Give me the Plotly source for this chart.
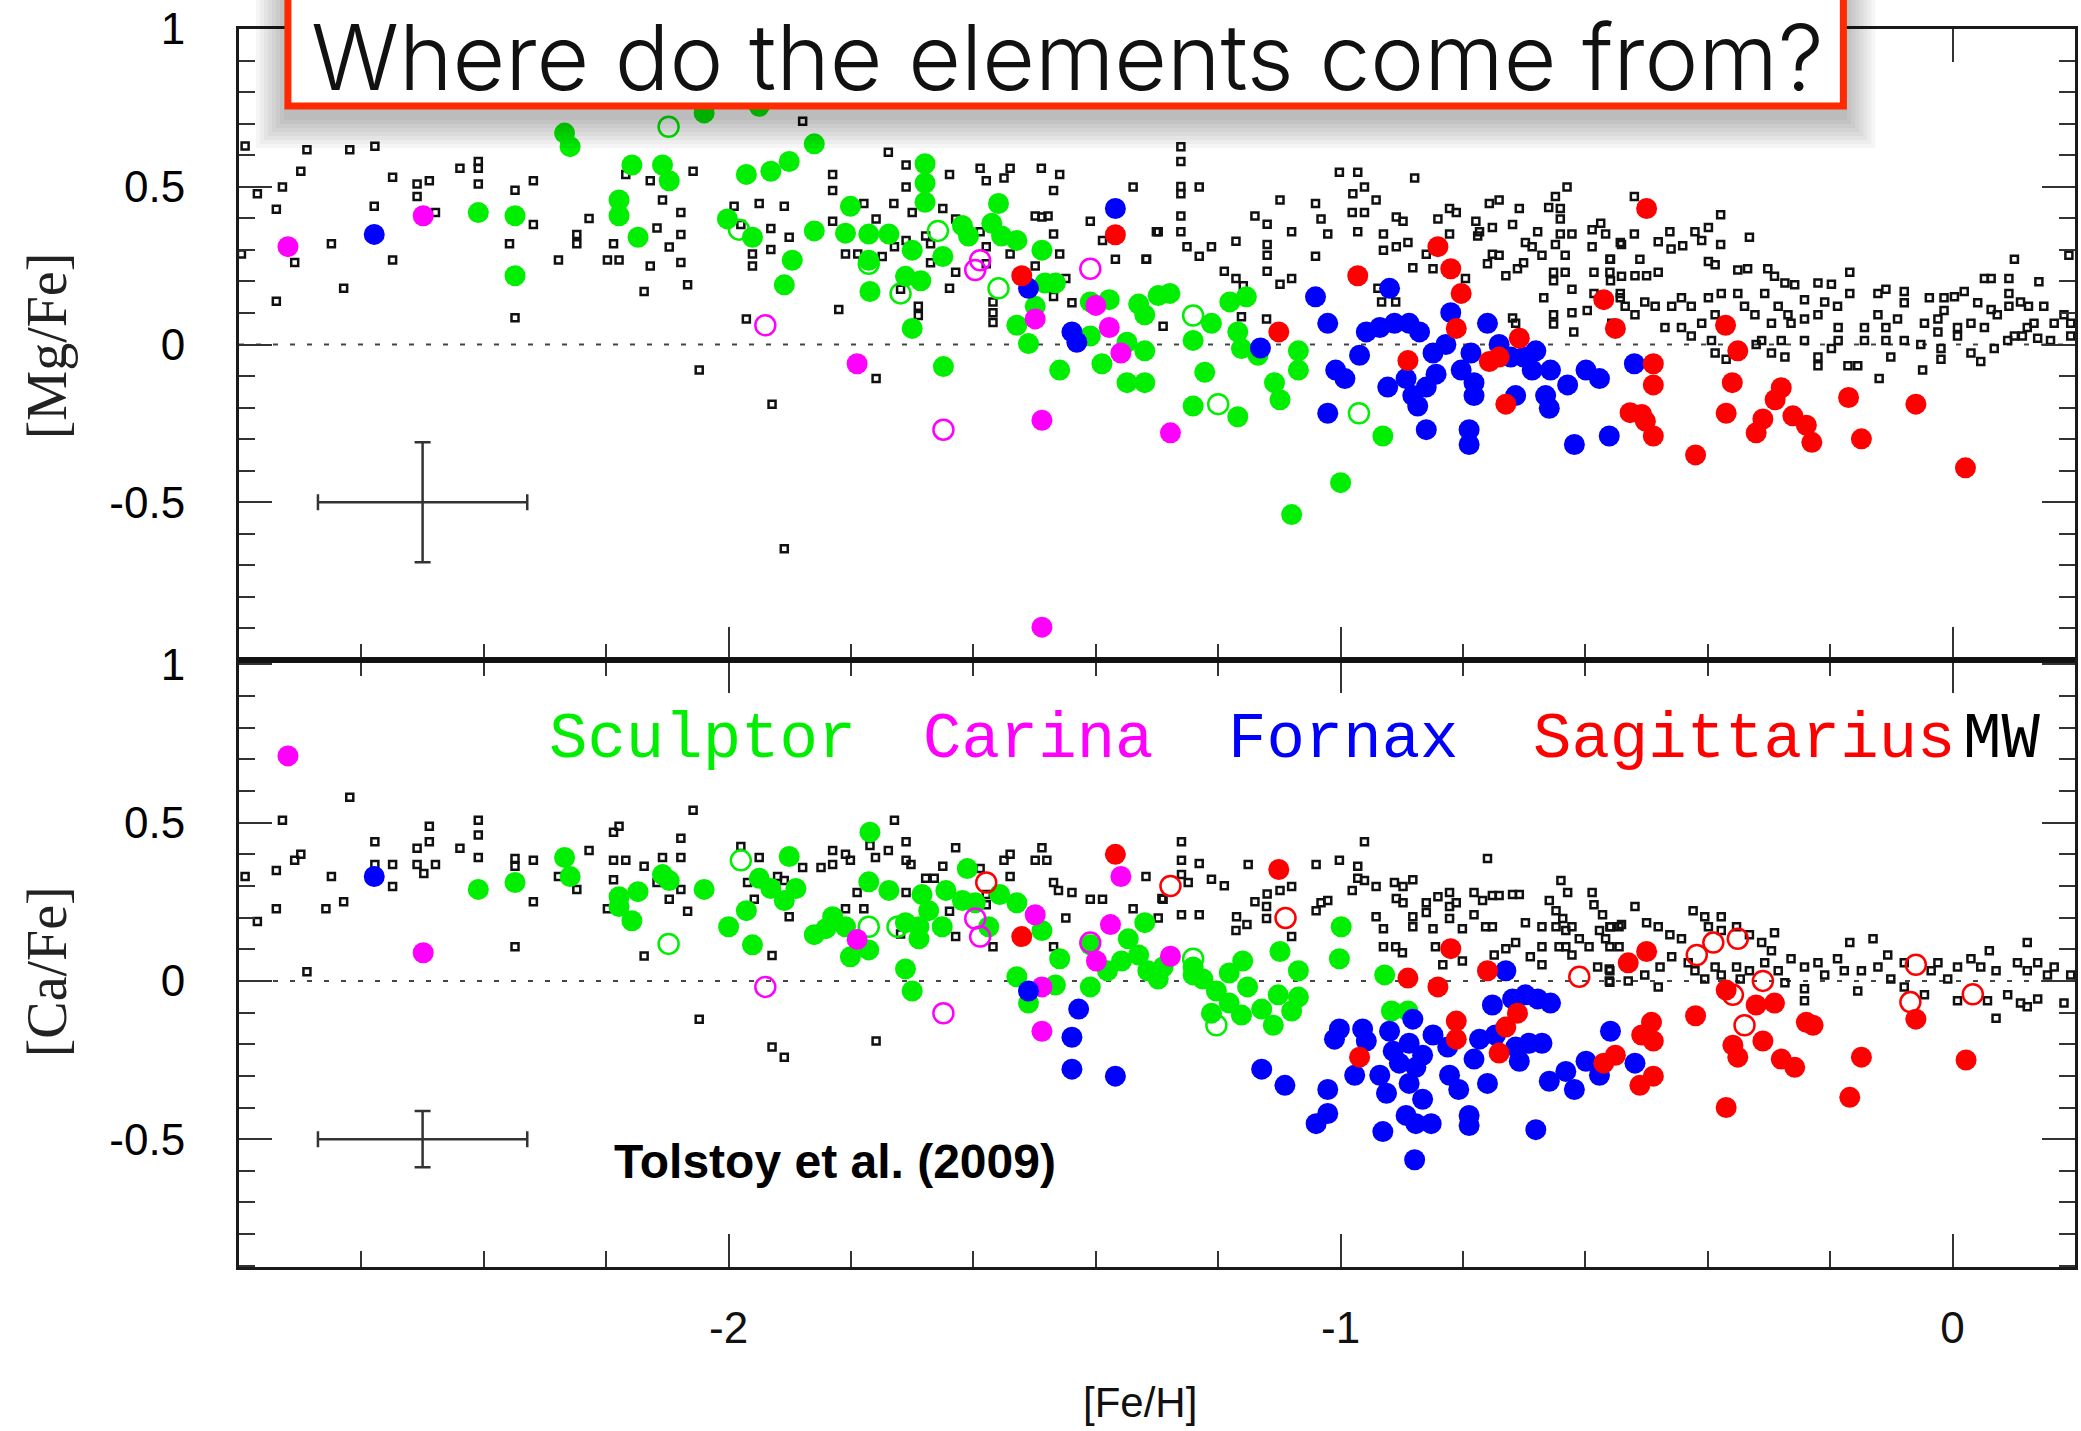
import plotly.graph_objects as go

# ---------------- data ([Fe/H], [X/Fe]) ----------------
# Top panel: [Mg/Fe]
mg_mw = [(-2.790,0.629),(-2.770,0.478),(-2.739,0.429),(-2.729,0.499),(-2.699,0.549),(-2.689,0.617),(-2.619,0.617),(-2.578,0.628),(-2.549,0.530),(-2.509,0.509),(-2.489,0.519),(-2.509,0.469),(-2.479,0.418),(-2.579,0.438),(-2.649,0.319),(-2.709,0.260),(-2.739,0.137),(-2.629,0.178),(-2.549,0.268),(-2.439,0.559),(-2.409,0.580),(-2.409,0.559),(-2.409,0.509),(-2.349,0.489),(-2.319,0.519),(-2.319,0.380),(-2.358,0.319),(-2.349,0.085),(-2.278,0.268),(-2.248,0.349),(-2.248,0.319),(-2.228,0.399),(-2.198,0.268),(-2.179,0.268),(-2.188,0.319),(-2.168,0.539),(-2.128,0.519),(-2.108,0.458),(-2.117,0.369),(-2.097,0.309),(-2.078,0.418),(-2.078,0.349),(-2.078,0.260),(-2.067,0.189),(-2.128,0.249),(-2.138,0.168),(-2.058,0.549),(-2.048,-0.081),(-2.796,0.287),
         (-1.879,0.708),(-1.739,0.609),(-1.710,0.569),(-1.710,0.499),(-1.639,0.539),(-1.589,0.559),(-1.540,0.559),(-1.579,0.519),(-1.550,0.528),(-1.489,0.559),(-1.459,0.539),(-1.469,0.488),(-1.339,0.499),(-1.830,0.539),(-1.830,0.488),(-1.991,0.438),(-1.950,0.447),(-1.909,0.438),(-1.931,0.368),(-1.980,0.380),(-1.901,0.340),(-1.961,0.287),(-1.961,0.249),(-1.931,0.301),(-1.830,0.391),(-1.779,0.447),(-1.759,0.398),(-1.730,0.447),(-1.809,0.287),(-1.789,0.287),(-1.749,0.279),(-1.729,0.310),(-1.710,0.330),(-1.700,0.418),(-1.678,0.344),(-1.670,0.319),(-1.670,0.259),(-1.650,0.431),(-1.629,0.398),(-1.629,0.229),(-1.639,0.178),(-1.589,0.357),(-1.579,0.310),(-1.579,0.256),(-1.540,0.287),(-1.499,0.407),(-1.488,0.404),(-1.478,0.407),(-1.469,0.350),(-1.459,0.287),(-1.499,0.249),(-1.449,0.209),(-1.469,0.152),(-1.439,0.132),(-1.568,0.135),(-1.568,0.101),(-1.568,0.070),(-1.690,0.121),(-1.690,0.092),(-1.719,0.175),(-1.820,0.111),(-1.971,0.081),(-1.759,-0.108),(-1.929,-0.189),(-1.909,-0.647),(-1.409,0.391),(-1.389,0.330),(-1.368,0.270),(-1.318,0.270),(-1.298,0.357),(-1.290,0.058),
         (-1.261,0.627),(-1.261,0.580),(-1.261,0.501),(-1.261,0.478),(-1.231,0.499),(-1.261,0.407),(-1.261,0.357),(-1.301,0.357),(-1.251,0.310),(-1.231,0.280),(-1.211,0.310),(-1.171,0.327),(-1.317,0.270),(-1.190,0.232),(-1.171,0.209),(-1.159,0.186),(-1.162,0.088),(-1.121,0.081),(-1.099,0.458),(-1.140,0.407),(-1.120,0.381),(-1.120,0.317),(-1.120,0.283),(-1.120,0.232),(-1.099,0.191),(-1.080,0.357),(-1.080,0.209),(-1.041,0.447),(-1.032,0.398),(-1.021,0.350),(-1.041,0.280),(-1.002,0.546),(-0.972,0.546),(-0.879,0.528),(-0.980,0.478),(-0.961,0.499),(-0.942,0.458),(-0.981,0.418),(-0.961,0.418),(-0.972,0.357),(-0.930,0.350),(-0.930,0.299),(-0.909,0.310),(-0.909,0.404),(-0.898,0.391),(-0.890,0.323),(-0.882,0.243),(-0.939,0.178),(-0.933,0.135),(-0.910,0.135),(-0.849,0.240),(-0.860,0.286),(-0.841,0.398),(-0.822,0.431),(-0.811,0.418),(-0.822,0.350),(-0.796,0.209),(-0.779,0.391),(-0.776,0.344),(-0.752,0.371),(-0.741,0.458),(-0.757,0.447),(-0.708,0.431),(-0.719,0.380),(-0.698,0.323),(-0.678,0.357),(-0.752,0.286),(-0.760,0.256),(-0.730,0.218),(-0.711,0.240),(-0.701,0.259),(-0.687,0.310),(-0.671,0.283),(-0.649,0.469),(-0.630,0.499),(-0.660,0.434),(-0.641,0.431),(-0.641,0.398),(-0.641,0.350),(-0.649,0.317),(-0.622,0.350),(-0.633,0.283),(-0.652,0.229),(-0.633,0.229),(-0.652,0.202),(-0.622,0.175),(-0.668,0.148),(-0.652,0.094),(-0.652,0.065),(-0.619,0.040),(-0.622,0.101),(-0.589,0.364),(-0.575,0.384),(-0.567,0.350),(-0.589,0.310),(-0.586,0.229),(-0.586,0.162),(-0.597,0.108),(-0.559,0.270),(-0.559,0.202),(-0.543,0.323),(-0.543,0.148),(-0.719,0.084),(-0.714,0.067),(-0.773,0.357),(-0.741,0.283),
         (-0.520,0.469),(-0.541,0.317),(-0.520,0.350),(-0.481,0.326),(-0.462,0.357),(-0.460,0.303),(-0.441,0.313),(-0.421,0.357),(-0.399,0.371),(-0.410,0.330),(-0.379,0.411),(-0.379,0.317),(-0.332,0.340),(-0.511,0.270),(-0.560,0.270),(-0.560,0.229),(-0.541,0.216),(-0.519,0.218),(-0.500,0.218),(-0.481,0.229),(-0.399,0.263),(-0.388,0.253),(-0.351,0.236),(-0.335,0.240),(-0.302,0.240),(-0.291,0.216),(-0.274,0.195),(-0.258,0.189),(-0.220,0.195),(-0.198,0.191),(-0.168,0.229),(-0.168,0.162),(-0.122,0.162),(-0.109,0.175),(-0.079,0.168),(-0.079,0.132),(-0.038,0.148),(-0.014,0.148),(0.003,0.151),(0.019,0.168),(0.052,0.209),(0.063,0.209),(0.092,0.209),(0.101,0.270),(0.141,0.199),(0.190,0.283),(0.041,0.132),(0.063,0.111),(0.092,0.162),(0.092,0.121),(0.111,0.135),(0.124,0.121),(0.149,0.121),(0.182,0.094),(0.193,0.067),(0.133,0.067),(0.139,0.020),(0.160,0.013),(0.101,0.027),(0.073,0.094),(0.052,0.054),(0.030,0.067),(0.008,0.054),(-0.014,0.108),(-0.024,0.081),(-0.024,0.040),(-0.019,-0.013),(-0.019,-0.047),(-0.046,0.067),(-0.052,0.000),(-0.049,-0.081),(-0.079,0.013),(-0.090,0.081),(-0.109,0.054),(-0.109,0.013),(-0.101,-0.040),(-0.120,-0.108),(-0.144,0.013),(-0.144,0.054),(-0.122,0.094),(-0.155,-0.067),(-0.171,-0.067),(-0.187,0.013),(-0.198,-0.013),(-0.220,-0.040),(-0.220,-0.067),(-0.242,0.013),(-0.242,0.081),(-0.220,0.094),(-0.188,0.121),(-0.264,0.067),(-0.280,0.013),(-0.296,-0.027),(-0.312,0.013),(-0.321,0.000),(-0.296,0.067),(-0.323,0.094),(-0.340,0.121),(-0.351,0.162),(-0.378,0.162),(-0.399,0.148),(-0.388,0.094),(-0.410,0.067),(-0.427,0.121),(-0.443,0.148),(-0.459,0.121),(-0.470,0.054),(-0.486,0.121),(-0.503,0.135),(-0.535,0.121),(-0.519,0.094),(-0.543,0.162),(-0.557,0.067),(-0.394,0.013),(-0.388,-0.027),(-0.370,-0.047),(-0.427,0.027),(-0.443,0.054),(-0.269,0.094),(-0.285,0.121),(-0.307,0.162),(-0.242,0.142),(-0.209,0.135),(-0.274,-0.040),(-0.187,0.054),(0.030,-0.027),(0.046,-0.054),(0.068,-0.013),(0.090,0.013),(0.114,0.027),(0.122,0.054),(0.166,0.067),(0.193,0.027),(0.008,0.027)]

mg_scl = [(-2.268,0.670),(-2.259,0.627),(-2.409,0.418),(-2.349,0.408),(-2.349,0.218),(-2.158,0.569),(-2.108,0.569),(-2.097,0.519),(-2.179,0.458),(-2.179,0.408),(-2.148,0.340),(-2.040,0.734),
          (-1.950,0.755),(-1.860,0.636),(-1.901,0.580),(-1.931,0.549),(-1.971,0.539),(-2.002,0.398),(-1.961,0.340),(-1.860,0.360),(-1.896,0.267),(-1.909,0.189),(-1.801,0.438),(-1.809,0.353),(-1.771,0.350),(-1.738,0.350),(-1.771,0.267),(-1.769,0.168),(-1.700,0.299),(-1.711,0.216),(-1.686,0.202),(-1.700,0.051),(-1.679,0.573),(-1.679,0.512),(-1.679,0.451),(-1.650,0.279),(-1.618,0.377),(-1.608,0.344),(-1.559,0.447),(-1.570,0.384),(-1.554,0.344),(-1.529,0.330),(-1.488,0.299),(-1.499,0.121),(-1.483,0.195),(-1.466,0.195),(-1.529,0.061),(-1.510,0.003),(-1.649,-0.070),(-1.459,-0.081),(-1.409,0.135),(-1.378,0.142),(-1.409,0.027),(-1.390,-0.061),(-1.349,0.007),(-1.320,-0.020),(-1.349,-0.121),(-1.320,-0.121),(-1.330,0.128),(-1.320,0.094),(-1.298,0.155),
          (-1.279,0.162),(-1.211,0.067),(-1.241,0.013),(-1.222,-0.088),(-1.241,-0.195),(-1.181,0.135),(-1.154,0.151),(-1.168,0.040),(-1.162,-0.013),(-1.135,-0.034),(-1.168,-0.229),(-1.108,-0.121),(-1.099,-0.175),(-1.069,-0.020),(-1.069,-0.081),(-0.931,-0.290),(-1.000,-0.438),(-1.080,-0.539)]
mg_scl_open = [(-2.098,0.690),(-1.983,0.364),(-1.771,0.256),(-1.719,0.162),(-1.658,0.360),(-1.559,0.178),(-1.241,0.092),(-1.200,-0.189),(-0.970,-0.218)]
mg_car = [(-2.720,0.310),(-2.499,0.408),(-1.790,-0.061),(-1.488,-0.240),(-1.499,0.081),(-1.400,0.124),(-1.378,0.054),(-1.359,-0.027),(-1.488,-0.896),(-1.278,-0.280)]
mg_car_open = [(-1.940,0.061),(-1.649,-0.270),(-1.409,0.240),(-1.597,0.236),(-1.589,0.267)]
mg_fnx = [(-2.579,0.349),(-1.368,0.431),(-1.510,0.178),(-1.439,0.040),(-1.431,0.007),
          (-1.131,-0.011),(-1.041,0.151),(-1.021,0.067),(-1.021,-0.218),(-1.008,-0.081),(-0.993,-0.108),(-0.969,-0.034),(-0.958,0.040),(-0.936,0.054),(-0.920,0.178),(-0.912,0.067),(-0.888,0.067),(-0.871,0.040),(-0.923,-0.135),(-0.893,-0.108),(-0.882,-0.162),(-0.874,-0.195),(-0.860,-0.135),(-0.844,-0.094),(-0.849,-0.027),(-0.828,0.000),(-0.820,0.101),(-0.803,-0.081),(-0.782,-0.121),(-0.782,-0.162),(-0.760,0.067),(-0.787,-0.027),(-0.741,0.000),(-0.722,-0.040),(-0.701,-0.040),(-0.681,-0.020),(-0.687,-0.081),(-0.657,-0.081),(-0.714,-0.162),(-0.665,-0.162),(-0.659,-0.202),(-0.629,-0.128),(-0.599,-0.081),(-0.577,-0.108),(-0.860,-0.270),(-0.790,-0.270),(-0.790,-0.317),(-0.618,-0.317),(-0.561,-0.290),(-0.520,-0.061)]
mg_sgr = [(-1.368,0.348),(-1.521,0.218),(-1.101,0.040),(-0.972,0.218),(-0.841,0.310),(-0.820,0.240),(-0.803,0.162),(-0.811,0.051),(-0.890,-0.051),(-0.757,-0.054),(-0.741,-0.040),(-0.730,-0.189),(-0.708,0.020),(-0.570,0.142),(-0.551,0.051),
          (-0.500,0.431),(-0.489,-0.061),(-0.489,-0.128),(-0.527,-0.216),(-0.508,-0.222),(-0.502,-0.243),(-0.489,-0.290),(-0.420,-0.350),(-0.371,0.061),(-0.351,-0.020),(-0.360,-0.121),(-0.370,-0.218),(-0.280,-0.137),(-0.290,-0.175),(-0.310,-0.236),(-0.321,-0.280),(-0.261,-0.226),(-0.239,-0.256),(-0.230,-0.310),(-0.170,-0.168),(-0.149,-0.299),(-0.060,-0.189),(0.021,-0.391)]

# Bottom panel: [Ca/Fe]
ca_mw = [(-2.790,0.330),(-2.770,0.188),(-2.739,0.349),(-2.739,0.228),(-2.729,0.508),(-2.709,0.381),(-2.699,0.400),(-2.689,0.029),(-2.658,0.228),(-2.649,0.330),(-2.629,0.250),(-2.619,0.580),(-2.578,0.440),(-2.578,0.368),(-2.549,0.368),(-2.549,0.298),(-2.509,0.419),(-2.509,0.368),(-2.489,0.489),(-2.489,0.440),(-2.498,0.339),(-2.479,0.368),(-2.439,0.419),(-2.409,0.508),(-2.409,0.461),(-2.409,0.390),(-2.349,0.387),(-2.349,0.362),(-2.349,0.108),(-2.319,0.381),(-2.319,0.250),(-2.278,0.330),(-2.248,0.289),(-2.228,0.412),(-2.198,0.228),(-2.188,0.470),(-2.179,0.489),(-2.188,0.381),(-2.168,0.381),(-2.188,0.320),(-2.138,0.362),(-2.138,0.079),(-2.117,0.311),(-2.108,0.390),(-2.078,0.390),(-2.078,0.451),(-2.097,0.258),(-2.078,0.289),(-2.067,0.220),(-2.058,0.539),(-2.048,-0.121),
         (-1.980,0.425),(-1.950,0.390),(-1.920,0.330),(-1.909,0.317),(-1.969,0.311),(-1.958,0.258),(-1.901,0.203),(-1.929,0.080),(-1.879,0.358),(-1.849,0.358),(-1.830,0.368),(-1.830,0.412),(-1.809,0.400),(-1.801,0.381),(-1.809,0.228),(-1.779,0.228),(-1.790,0.279),(-1.769,0.428),(-1.760,0.390),(-1.739,0.412),(-1.729,0.508),(-1.710,0.440),(-1.710,0.381),(-1.702,0.368),(-1.710,0.279),(-1.719,0.148),(-1.629,0.421),(-1.650,0.362),(-1.678,0.324),(-1.664,0.324),(-1.639,0.220),(-1.629,0.140),(-1.589,0.355),(-1.579,0.273),(-1.579,0.241),(-1.568,0.108),(-1.550,0.381),(-1.540,0.400),(-1.540,0.330),(-1.499,0.381),(-1.488,0.421),(-1.480,0.381),(-1.469,0.311),(-1.461,0.286),(-1.439,0.279),(-1.449,0.199),(-1.469,0.108),(-1.409,0.258),(-1.389,0.258),(-1.318,0.330),(-1.339,0.228),(-1.298,0.199),(-1.290,0.258),(-1.759,-0.190),(-1.929,-0.209),(-1.909,-0.241),
         (-1.260,0.440),(-1.260,0.381),(-1.231,0.371),(-1.260,0.336),(-1.249,0.311),(-1.292,0.260),(-1.260,0.209),(-1.231,0.209),(-1.211,0.321),(-1.190,0.301),(-1.151,0.368),(-1.140,0.250),(-1.120,0.275),(-1.099,0.286),(-1.080,0.298),(-1.121,0.235),(-1.121,0.197),(-1.170,0.203),(-1.153,0.178),(-1.171,0.159),(-1.080,0.140),(-1.040,0.368),(-1.002,0.381),(-0.961,0.440),(-1.032,0.247),(-1.021,0.254),(-1.040,0.222),(-0.981,0.286),(-0.972,0.362),(-0.972,0.324),(-0.961,0.317),(-0.942,0.298),(-0.912,0.311),(-0.898,0.298),(-0.882,0.320),(-0.909,0.260),(-0.898,0.247),(-0.942,0.203),(-0.930,0.165),(-0.930,0.108),(-0.910,0.108),(-0.899,0.089),(-0.882,0.203),(-0.882,0.171),(-0.860,0.247),(-0.860,0.216),(-0.849,0.165),(-0.841,0.266),(-0.822,0.279),(-0.822,0.235),(-0.822,0.197),(-0.811,0.247),(-0.801,0.165),(-0.845,0.108),(-0.833,0.051),(-0.801,0.063),(-0.782,0.279),(-0.768,0.254),(-0.782,0.209),(-0.760,0.387),(-0.752,0.270),(-0.741,0.270),(-0.719,0.273),(-0.708,0.273),(-0.763,0.171),(-0.752,0.171),(-0.749,0.082),(-0.730,0.102),(-0.714,0.121),(-0.698,0.184),(-0.671,0.171),(-0.671,0.051),(-0.690,0.076),(-0.659,0.254),(-0.640,0.317),(-0.629,0.279),(-0.589,0.279),(-0.586,0.241),(-0.648,0.222),(-0.637,0.197),(-0.648,0.171),(-0.632,0.159),(-0.622,0.171),(-0.643,0.108),(-0.632,0.108),(-0.671,0.108),(-0.622,0.082),(-0.610,0.133),(-0.594,0.108),(-0.577,0.159),(-0.567,0.133),(-0.572,0.209),(-0.559,0.171),(-0.561,0.038),(-0.561,0.000),(-0.545,0.108),(-0.545,0.171),(-0.580,0.044),
         (-0.519,0.235),(-0.560,0.171),(-0.541,0.178),(-0.500,0.184),(-0.481,0.171),(-0.462,0.146),(-0.560,0.108),(-0.560,0.032),(-0.560,-0.004),(-0.530,0.000),(-0.503,0.019),(-0.481,-0.019),(-0.478,0.044),(-0.459,0.076),(-0.443,0.133),(-0.424,0.222),(-0.405,0.203),(-0.378,0.203),(-0.399,0.171),(-0.378,0.159),(-0.353,0.171),(-0.332,0.146),(-0.291,0.152),(-0.312,0.121),(-0.296,0.095),(-0.432,0.057),(-0.421,0.032),(-0.405,0.006),(-0.388,0.044),(-0.378,0.019),(-0.353,0.044),(-0.347,0.006),(-0.332,0.032),(-0.307,0.057),(-0.285,0.032),(-0.274,-0.006),(-0.264,0.070),(-0.242,0.044),(-0.242,-0.025),(-0.242,-0.063),(-0.220,0.057),(-0.209,0.019),(-0.188,0.070),(-0.177,0.032),(-0.155,-0.032),(-0.149,0.032),(-0.168,0.121),(-0.130,0.133),(-0.122,0.044),(-0.106,0.082),(-0.101,0.006),(-0.079,0.057),(-0.079,-0.019),(-0.035,0.032),(-0.024,0.057),(-0.008,0.006),(0.008,0.044),(0.030,0.070),(0.046,0.044),(0.060,0.095),(0.071,0.032),(0.071,-0.118),(0.057,-0.063),(0.090,-0.044),(0.106,0.057),(0.122,0.121),(0.122,0.032),(0.111,-0.070),(0.139,-0.057),(0.122,-0.082),(0.139,0.057),(0.155,0.019),(0.166,0.044),(0.182,-0.070),(0.193,0.019),(0.008,-0.063),(-0.046,-0.044)]

ca_scl = [(-2.409,0.289),(-2.349,0.311),(-2.268,0.390),(-2.259,0.330),(-2.179,0.266),(-2.148,0.282),(-2.179,0.235),(-2.158,0.190),(-2.108,0.336),(-2.097,0.317),(-2.040,0.289),
          (-2.000,0.171),(-1.971,0.222),(-1.961,0.114),(-1.950,0.324),(-1.931,0.292),(-1.909,0.254),(-1.901,0.393),(-1.890,0.292),(-1.860,0.146),(-1.841,0.165),(-1.830,0.203),(-1.809,0.171),(-1.801,0.076),(-1.771,0.098),(-1.769,0.470),(-1.771,0.313),(-1.738,0.286),(-1.711,0.038),(-1.700,-0.032),(-1.711,0.184),(-1.689,0.171),(-1.684,0.273),(-1.689,0.133),(-1.651,0.171),(-1.645,0.286),(-1.673,0.222),(-1.610,0.355),(-1.618,0.254),(-1.597,0.247),(-1.575,0.171),(-1.557,0.273),(-1.529,0.247),(-1.488,0.159),(-1.529,0.013),(-1.510,-0.070),(-1.466,-0.013),(-1.459,0.070),(-1.409,0.114),(-1.409,-0.019),(-1.381,0.032),(-1.347,0.133),(-1.320,0.184),(-1.330,0.082),(-1.298,0.006),(-1.358,0.063),(-1.315,0.032),
          (-1.290,0.044),(-1.241,0.019),(-1.225,0.006),(-1.203,-0.032),(-1.211,-0.102),(-1.182,0.025),(-1.182,-0.070),(-1.160,0.063),(-1.152,-0.019),(-1.162,-0.108),(-1.129,-0.089),(-1.110,-0.140),(-1.099,0.093),(-1.080,-0.095),(-1.102,-0.044),(-1.069,0.032),(-1.069,-0.051),(-0.999,0.171),(-1.002,0.070),(-0.928,0.019),(-0.917,-0.095),(-0.890,-0.095),(-1.241,0.044)]
ca_scl_open = [(-2.098,0.117),(-1.980,0.381),(-1.771,0.171),(-1.724,0.171),(-1.203,-0.140),(-1.241,0.070)]
ca_car = [(-2.720,0.711),(-2.499,0.089),(-1.790,0.131),(-1.499,0.209),(-1.488,-0.019),(-1.488,-0.159),(-1.359,0.330),(-1.376,0.178),(-1.399,0.063),(-1.278,0.078)]
ca_car_open = [(-1.940,-0.019),(-1.649,-0.102),(-1.597,0.197),(-1.589,0.140),(-1.409,0.121)]
ca_fnx = [(-2.579,0.330),(-1.510,-0.032),(-1.428,-0.089),(-1.439,-0.178),(-1.439,-0.279),(-1.368,-0.301),
          (-1.129,-0.279),(-1.091,-0.330),(-1.021,-0.343),(-1.021,-0.419),(-1.040,-0.451),(-1.002,-0.152),(-1.010,-0.184),(-0.964,-0.152),(-0.958,-0.190),(-0.977,-0.298),(-0.936,-0.298),(-0.920,-0.159),(-0.914,-0.222),(-0.925,-0.355),(-0.904,-0.260),(-0.888,-0.197),(-0.882,-0.121),(-0.877,-0.273),(-0.866,-0.235),(-0.849,-0.171),(-0.888,-0.324),(-0.866,-0.374),(-0.893,-0.425),(-0.877,-0.451),(-0.852,-0.451),(-0.931,-0.476),(-0.879,-0.565),(-0.822,-0.298),(-0.825,-0.209),(-0.807,-0.343),(-0.790,-0.425),(-0.790,-0.457),(-0.782,-0.247),(-0.773,-0.184),(-0.760,-0.324),(-0.747,-0.171),(-0.752,-0.076),(-0.730,0.032),(-0.719,-0.057),(-0.698,-0.044),(-0.678,-0.057),(-0.657,-0.070),(-0.714,-0.209),(-0.692,-0.197),(-0.671,-0.197),(-0.708,-0.254),(-0.659,-0.317),(-0.681,-0.470),(-0.618,-0.343),(-0.632,-0.286),(-0.599,-0.254),(-0.577,-0.298),(-0.559,-0.159),(-0.519,-0.260)]
ca_sgr = [(-1.368,0.400),(-1.521,0.140),(-1.101,0.352),(-0.890,0.009),(-0.841,-0.019),(-0.820,0.102),(-0.760,0.032),(-0.969,-0.241),(-0.811,-0.127),(-0.811,-0.184),(-0.730,-0.146),(-0.711,-0.102),(-0.741,-0.228),(-0.570,-0.260),(-0.551,-0.235),
          (-0.530,0.057),(-0.500,0.093),(-0.492,-0.131),(-0.508,-0.171),(-0.489,-0.190),(-0.489,-0.301),(-0.511,-0.330),(-0.420,-0.110),(-0.370,-0.029),(-0.359,-0.203),(-0.351,-0.241),(-0.370,-0.400),(-0.310,-0.190),(-0.321,-0.076),(-0.291,-0.070),(-0.280,-0.247),(-0.258,-0.273),(-0.239,-0.131),(-0.228,-0.140),(-0.168,-0.368),(-0.149,-0.241),(-0.060,-0.121),(0.022,-0.250)]
ca_sgr_open = [(-1.579,0.311),(-1.278,0.300),(-1.090,0.199),(-0.610,0.013),(-0.418,0.082),(-0.391,0.121),(-0.351,0.133),(-0.310,0.000),(-0.359,-0.044),(-0.340,-0.140),(-0.060,0.051),(-0.069,-0.067),(0.033,-0.042)]

# typical error bars (center, half-widths)
err_mg = dict(x=-2.5, y=-0.5, dx=0.171, dy=0.19)
err_ca = dict(x=-2.5, y=-0.5, dx=0.171, dy=0.089)

legend_names = ["Sculptor", "Carina", "Fornax", "Sagittarius", "MW"]
legend_colors = ["#00ee00", "#ff00ff", "#0000ff", "#ff0000", "#000000"]
legend_left_px = [548, 922, 1228, 1533, 1964]

title_text = "Where do the elements come from?"
credit_text = "Tolstoy et al. (2009)"

# ---------------- figure ----------------
W, H = 2081, 1431
L, R, T, B = 239, 3, 29, 164
PW, PH = W - L - R, H - T - B
SPLIT = 607 / PH  # bottom panel fraction


def px(xp):
    return (xp - L) / PW


def py(yp):
    return (H - B - yp) / PH


GREEN, MAG, BLUE, RED = legend_colors[:4]

fig = go.Figure()


def add_pts(pts, yaxis, color, kind):
    xs = [p[0] for p in pts]
    ys = [p[1] for p in pts]
    xaxis = "x2" if yaxis == "y2" else "x"
    if kind == "mw":
        marker = dict(symbol="square-open", size=7, color="#111111", line=dict(width=2.5, color="#111111"))
    elif kind == "open":
        marker = dict(symbol="circle-open", size=20, color=color, line=dict(width=2.5, color=color))
    else:
        marker = dict(symbol="circle", size=21, color=color, line=dict(width=0))
    fig.add_trace(go.Scatter(x=xs, y=ys, mode="markers", marker=marker,
                             xaxis=xaxis, yaxis=yaxis, showlegend=False, hoverinfo="skip"))


for panel, ya in ((dict(mw=mg_mw, scl=mg_scl, scl_o=mg_scl_open, car=mg_car, car_o=mg_car_open,
                        fnx=mg_fnx, sgr=mg_sgr, sgr_o=[]), "y2"),
                  (dict(mw=ca_mw, scl=ca_scl, scl_o=ca_scl_open, car=ca_car, car_o=ca_car_open,
                        fnx=ca_fnx, sgr=ca_sgr, sgr_o=ca_sgr_open), "y")):
    add_pts(panel["mw"], ya, "#000", "mw")
    add_pts(panel["scl"], ya, GREEN, "fill")
    add_pts(panel["scl_o"], ya, GREEN, "open")
    add_pts(panel["car"], ya, MAG, "fill")
    add_pts(panel["car_o"], ya, MAG, "open")
    add_pts(panel["fnx"], ya, BLUE, "fill")
    add_pts(panel["sgr"], ya, RED, "fill")
    if panel["sgr_o"]:
        add_pts(panel["sgr_o"], ya, RED, "open")

# error-bar crosses
for e, ya in ((err_mg, "y2"), (err_ca, "y")):
    fig.add_trace(go.Scatter(
        x=[e["x"]], y=[e["y"]], mode="markers",
        marker=dict(size=1, color="#333"),
        error_x=dict(type="data", array=[e["dx"]], color="#333", thickness=2.5, width=8),
        error_y=dict(type="data", array=[e["dy"]], color="#333", thickness=2.5, width=8),
        xaxis="x2" if ya == "y2" else "x", yaxis=ya, showlegend=False, hoverinfo="skip"))

axis_common = dict(showline=True, linewidth=3, linecolor="#1a1a1a", mirror="allticks",
                   ticks="inside", tickwidth=2, tickcolor="#333", ticklen=33,
                   showgrid=False, zeroline=False)

xminor = dict(ticks="inside", dtick=0.2, tick0=0, ticklen=16, tickwidth=2, tickcolor="#333", showgrid=False)
yminor = dict(ticks="inside", dtick=0.1, tick0=0, ticklen=16, tickwidth=2, tickcolor="#333", showgrid=False)

tick_font_y = dict(family="Liberation Sans, Arial, sans-serif", size=44, color="#000")
tick_font_x = dict(family="Liberation Sans Narrow, Arial Narrow, Liberation Sans, sans-serif", size=44, color="#111")

fig.update_layout(
    width=W, height=H,
    margin=dict(l=L, r=R, t=T, b=B, pad=0),
    paper_bgcolor="white", plot_bgcolor="white",
    showlegend=False,
    xaxis=dict(domain=[0, 1], anchor="y", range=[-2.8, 0.2],
               tickmode="array", tickvals=[-2, -1, 0], ticktext=["-2", "-1", "0"],
               tickfont=tick_font_x, ticklabelstandoff=20, minor=xminor, **axis_common),
    xaxis2=dict(domain=[0, 1], anchor="y2", range=[-2.8, 0.2], matches="x",
                tickmode="array", tickvals=[-2, -1, 0], showticklabels=False,
                minor=xminor, **axis_common),
    yaxis=dict(domain=[0, SPLIT], anchor="x", range=[-0.904, 1.014],
               tickmode="array", tickvals=[-0.5, 0, 0.5, 1], ticktext=["-0.5", "0", "0.5", "1"],
               tickfont=tick_font_y, ticklabelstandoff=42, minor=yminor, **axis_common),
    yaxis2=dict(domain=[SPLIT, 1], anchor="x2", range=[-1.0, 1.0],
                tickmode="array", tickvals=[-0.5, 0, 0.5, 1], ticktext=["-0.5", "0", "0.5", "1"],
                tickfont=tick_font_y, ticklabelstandoff=42, minor=yminor, **axis_common),
)

shapes = []
# dotted zero lines
for ya, xa in (("y", "x"), ("y2", "x2")):
    shapes.append(dict(type="line", xref=xa, yref=ya, x0=-2.8, x1=0.2, y0=0, y1=0,
                       line=dict(color="#444", width=2, dash="5px,12px"), layer="below"))
# thick separator between panels
shapes.append(dict(type="line", xref="paper", yref="paper", x0=0, x1=1, y0=SPLIT, y1=SPLIT,
                   line=dict(color="#111", width=5), layer="above"))
# title box shadow
bx0, bx1, by0, by1 = 288, 1846, -12, 106
for i in range(8):
    g = 4 * (i + 1)
    shapes.append(dict(type="rect", xref="paper", yref="paper",
                       x0=px(bx0 - g), x1=px(bx1 + g), y0=py(by1 + 10 + g), y1=py(by0),
                       fillcolor="rgba(0,0,0,0.035)", line=dict(width=0), layer="above"))
# title box
shapes.append(dict(type="rect", xref="paper", yref="paper",
                   x0=px(bx0), x1=px(bx1), y0=py(by1), y1=py(by0),
                   fillcolor="white", line=dict(color="#ff2a00", width=7), layer="above"))
fig.update_layout(shapes=shapes)

ann = []
ann.append(dict(text=title_text, xref="paper", yref="paper", x=px(1068), y=py(0),
                xanchor="center", yanchor="top", showarrow=False,
                font=dict(family="Inter, Lato, Liberation Sans, sans-serif", size=91, color="#111", weight=300)))
for name, col, lx in zip(legend_names, legend_colors, legend_left_px):
    ann.append(dict(text=name, xref="paper", yref="paper", x=px(lx), y=py(740),
                    xanchor="left", yanchor="middle", showarrow=False,
                    font=dict(family="Liberation Mono, Courier New, monospace", size=64, color=col)))
ann.append(dict(text="<b>" + credit_text + "</b>", xref="paper", yref="paper", x=px(836), y=py(1161),
                xanchor="center", yanchor="middle", showarrow=False,
                font=dict(family="Liberation Sans, Arial, sans-serif", size=48, color="#000")))
ann.append(dict(text="[Fe/H]", xref="paper", yref="paper", x=px(1141), y=py(1403),
                xanchor="center", yanchor="middle", showarrow=False,
                font=dict(family="Liberation Sans Narrow, Arial Narrow, Liberation Sans, sans-serif", size=42, color="#111")))
ann.append(dict(text="[Mg/Fe]", xref="paper", yref="paper", x=px(47), y=py(346),
                xanchor="center", yanchor="middle", showarrow=False, textangle=-90,
                font=dict(family="Liberation Serif, Times New Roman, serif", size=56, color="#222")))
ann.append(dict(text="[Ca/Fe]", xref="paper", yref="paper", x=px(47), y=py(972),
                xanchor="center", yanchor="middle", showarrow=False, textangle=-90,
                font=dict(family="Liberation Serif, Times New Roman, serif", size=56, color="#222")))
fig.update_layout(annotations=ann)

fig.write_html("out.html")
